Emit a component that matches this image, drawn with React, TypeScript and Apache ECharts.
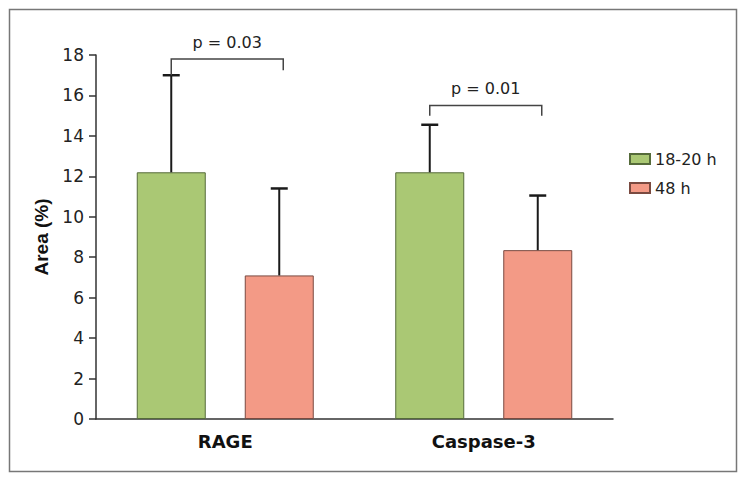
import React, { useEffect, useRef } from "react";
import * as echarts from "echarts";

const categories = ["RAGE", "Caspase-3"];
const seriesNames = ["18-20 h", "48 h"];
const mean18 = [12.2, 12.2];
const sd18 = [4.8, 2.35];
const mean48 = [7.1, 8.35];
const sd48 = [4.3, 2.7];
const bracketTop = [17.8, 15.5];
const bracketLeftEnd = [17.0, 15.0];
const bracketRightEnd = [17.25, 15.0];
const pLabels = ["p = 0.03", "p = 0.01"];
const yTicks = { min: 0, max: 18, interval: 2 };

const GREEN = "#aac874";
const RED = "#f39a86";
const BAR_W = 69;
const GAP_PX = 39;
const OFFSET = (BAR_W + GAP_PX) / 2;

export default function App() {
  const ref = useRef<HTMLDivElement>(null);
  useEffect(() => {
    if (!ref.current) return;
    const chart = echarts.init(ref.current, null, { renderer: "svg" });

    const errRender = (sign: number) => (params: any, api: any) => {
      const cat = api.value(0);
      const base = api.coord([cat, api.value(1)]);
      const top = api.coord([cat, api.value(2)]);
      const x = base[0] + sign * OFFSET;
      const style = { stroke: "#1a1a1a", lineWidth: 2 };
      return {
        type: "group",
        children: [
          { type: "line", shape: { x1: x, y1: base[1], x2: x, y2: top[1] }, style },
          { type: "line", shape: { x1: x - 8.5, y1: top[1], x2: x + 8.5, y2: top[1] }, style: { stroke: "#1a1a1a", lineWidth: 2.5 } },
        ],
      };
    };

    const bracketRender = (params: any, api: any) => {
      const cat = api.value(0);
      const t = api.coord([cat, api.value(1)]);
      const l = api.coord([cat, api.value(2)]);
      const r = api.coord([cat, api.value(3)]);
      const xl = t[0] - OFFSET;
      const xr = t[0] + OFFSET + 4;
      return {
        type: "group",
        children: [
          {
            type: "polyline",
            shape: { points: [[xl, l[1]], [xl, t[1]], [xr, t[1]], [xr, r[1]]] },
            style: { stroke: "#444", lineWidth: 1.5, fill: "none" },
          },
          {
            type: "text",
            x: (xl + xr) / 2,
            y: t[1] - 17,
            style: {
              text: pLabels[params.dataIndex],
              fontFamily: "DejaVu Sans",
              fontSize: 16,
              fill: "#222",
              align: "center",
              verticalAlign: "middle",
            },
          },
        ],
      };
    };

    const option: any = {
      animation: false,
      backgroundColor: "#fff",
      graphic: [
        {
          type: "rect",
          shape: { x: 9.5, y: 9.5, width: 727, height: 462 },
          style: { fill: "none", stroke: "#777", lineWidth: 1.5 },
          silent: true,
        },
      ],
      grid: { left: 96, right: 135, top: 55, bottom: 62 },
      legend: {
        orient: "vertical",
        left: 629,
        top: 150,
        padding: 0,
        itemWidth: 20,
        itemHeight: 10,
        itemGap: 11,
        icon: "rect",
        data: seriesNames,
        textStyle: { fontFamily: "DejaVu Sans", fontSize: 16, color: "#222", lineHeight: 18 },
      },
      xAxis: {
        type: "category",
        data: categories,
        axisTick: { show: false },
        axisLine: { lineStyle: { color: "#333", width: 1.5 } },
        axisLabel: { fontFamily: "DejaVu Sans", fontWeight: "bold", fontSize: 18, color: "#111", margin: 13 },
      },
      yAxis: {
        type: "value",
        min: yTicks.min,
        max: yTicks.max,
        interval: yTicks.interval,
        name: "Area (%)",
        nameLocation: "middle",
        nameGap: 44,
        nameTextStyle: { fontFamily: "Liberation Sans", fontWeight: "bold", fontSize: 19, color: "#111" },
        splitLine: { show: false },
        axisLine: { show: true, lineStyle: { color: "#333", width: 1.5 } },
        axisTick: { show: true, length: 7, lineStyle: { color: "#333", width: 1.5 } },
        axisLabel: { fontFamily: "DejaVu Sans", fontSize: 17, color: "#222", margin: 12 },
      },
      series: [
        {
          name: seriesNames[0],
          type: "bar",
          data: mean18,
          barWidth: BAR_W,
          barGap: (GAP_PX / BAR_W) * 100 + "%",
          itemStyle: { color: GREEN, borderColor: "#556b3a", borderWidth: 1 },
        },
        {
          name: seriesNames[1],
          type: "bar",
          data: mean48,
          barWidth: BAR_W,
          itemStyle: { color: RED, borderColor: "#7a4a40", borderWidth: 1 },
        },
        {
          type: "custom",
          renderItem: errRender(-1),
          data: categories.map((c, i) => [i, mean18[i], mean18[i] + sd18[i]]),
          z: 5,
          silent: true,
        },
        {
          type: "custom",
          renderItem: errRender(1),
          data: categories.map((c, i) => [i, mean48[i], mean48[i] + sd48[i]]),
          z: 5,
          silent: true,
        },
        {
          type: "custom",
          renderItem: bracketRender,
          data: categories.map((c, i) => [i, bracketTop[i], bracketLeftEnd[i], bracketRightEnd[i]]),
          z: 5,
          silent: true,
        },
      ],
    };
    chart.setOption(option);
    return () => chart.dispose();
  }, []);
  return <div ref={ref} style={{ position: "fixed", left: 0, top: 0, width: 748, height: 481 }} />;
}
